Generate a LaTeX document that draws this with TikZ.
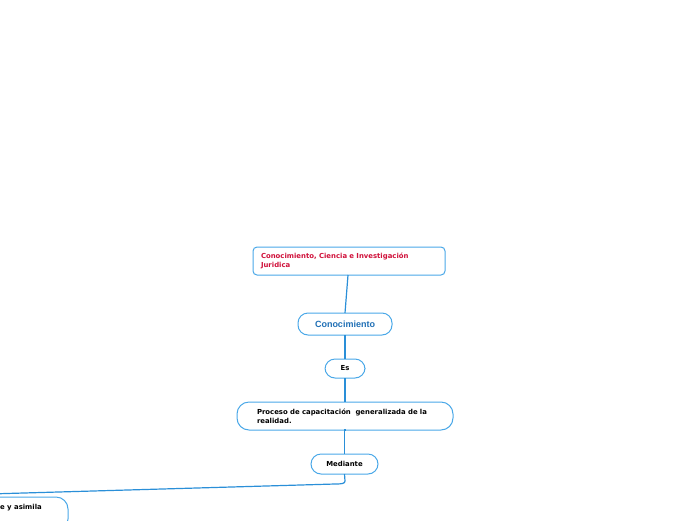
\documentclass[tikz,border=0pt]{standalone}
\usepackage{fontspec}
\setmainfont{DejaVu Sans}
\newfontfamily\arialb{Liberation Sans}
\definecolor{linkblue}{HTML}{2A8FD8}
\definecolor{boxblue}{HTML}{4AA8E8}
\definecolor{titlered}{HTML}{D0103A}
\definecolor{conblue}{HTML}{1F6FB5}
\begin{document}
\begin{tikzpicture}[x=1pt,y=-1pt,
  box/.style={draw=boxblue,line width=1pt,fill=white,inner sep=0pt,outer sep=0pt},
  pill/.style={box,rounded corners=10pt},
  small/.style={font=\bfseries\fontsize{6.9}{9}\selectfont},
  link/.style={draw=linkblue,line width=1.2pt}]
\useasboundingbox (0,0) rectangle (696,520);
% nodes
\node[box,rounded corners=4pt,minimum width=192pt,minimum height=28pt,
  text width=176pt,align=left,small,text=titlered] (title) at (349,261)
  {Conocimiento, Ciencia e Investigación\\Juridica};
\node[pill,minimum width=94pt,minimum height=22pt,text=conblue,
  font=\arialb\bfseries\fontsize{9}{11}\selectfont] (con) at (345,324) {Conocimiento};
\node[pill,minimum width=40pt,minimum height=19pt,small] (es) at (345,368.5) {Es};
\node[pill,rounded corners=12pt,minimum width=216pt,minimum height=28pt,
  text width=176pt,align=left,small] (proc) at (345,416)
  {Proceso de capacitación~ generalizada de la\\realidad.};
\node[pill,minimum width=67pt,minimum height=20pt,small] (med) at (344.5,464) {Mediante};
\node[pill,rounded corners=12pt,minimum width=150pt,minimum height=34pt] (bot) at (-7,514) {};
\node[small,anchor=east,inner sep=0pt] (bottxt) at (42,507.5) {e y asimila};
% connectors
\coordinate (c1) at (345,481);
\coordinate (c2) at (335,484);
\coordinate (cend) at (-80,496);
\draw[link] (title.south -| 348,0) -- (con.north);
\draw[link] (con.south) -- (es.north);
\draw[link] (es.south) -- (proc.north);
\draw[link] (proc.south) -- (med.south |- proc.south) -- (med.north);
\draw[link] (med.south) -- (c1) .. controls (345,483.5) and (342,484) .. (c2) -- (cend);
\end{tikzpicture}
\end{document}
